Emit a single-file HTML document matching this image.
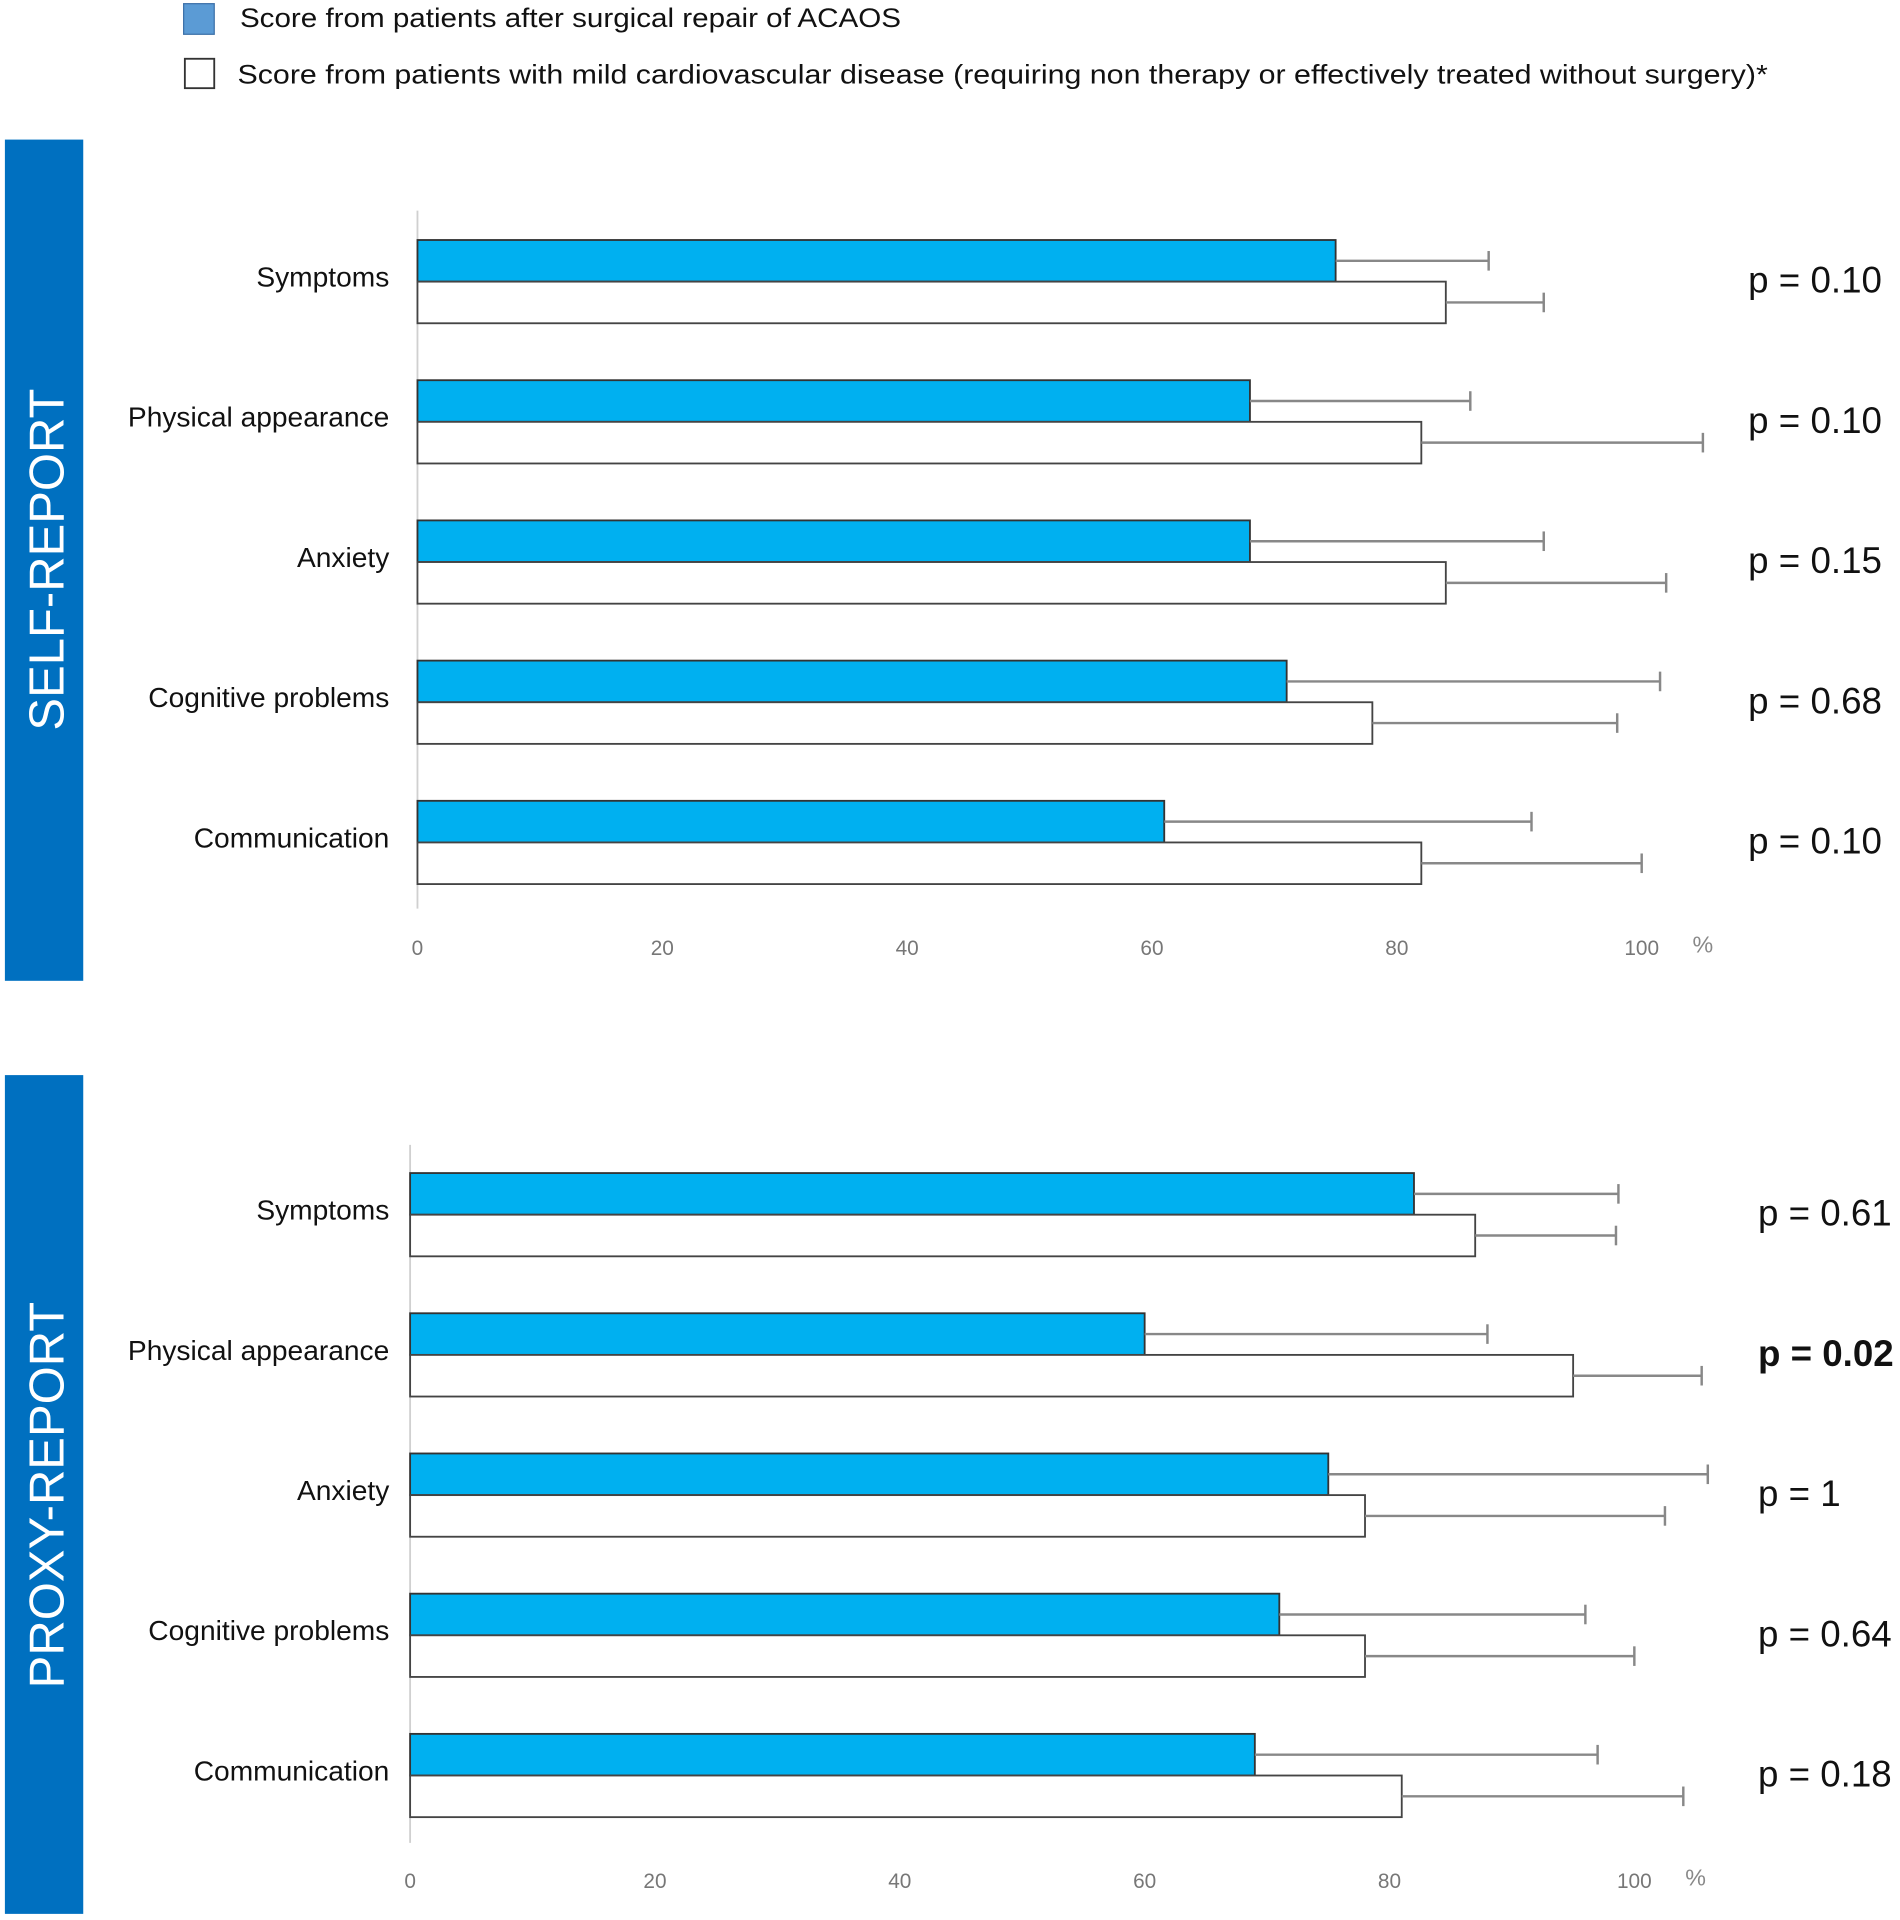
<!DOCTYPE html>
<html><head><meta charset="utf-8"><style>
html,body{margin:0;padding:0;background:#fff;}
svg{display:block;font-family:"Liberation Sans",sans-serif;}
</style></head><body>
<svg id="chart" width="1900" height="1920" viewBox="0 0 1552 1568" preserveAspectRatio="none" xmlns="http://www.w3.org/2000/svg">
<g>
<rect x="150" y="3" width="25" height="25" fill="#5b9bd5" stroke="#3a6fa8" stroke-width="1"/>
<text x="196" y="22" font-size="22" fill="#111" textLength="540" lengthAdjust="spacingAndGlyphs">Score from patients after surgical repair of ACAOS</text>
<rect x="151" y="48" width="24" height="24" fill="#fff" stroke="#333" stroke-width="1.5"/>
<text x="194" y="68" font-size="22" fill="#111" textLength="1250" lengthAdjust="spacingAndGlyphs">Score from patients with mild cardiovascular disease (requiring non therapy or effectively treated without surgery)*</text>
</g>
<rect x="4" y="114" width="64" height="687" fill="#0070c0"/>
<text transform="translate(52,457) rotate(-90)" text-anchor="middle" font-size="40" fill="#fff">SELF-REPORT</text>
<rect x="4" y="878" width="64" height="685" fill="#0070c0"/>
<text transform="translate(52,1221) rotate(-90)" text-anchor="middle" font-size="40" fill="#fff">PROXY-REPORT</text>
<g id="plots"></g>
</svg>
<script>
const categories = ["Symptoms","Physical appearance","Anxiety","Cognitive problems","Communication"];
const selfAcaos = [75,68,68,71,61];
const selfAcaosErr = [87.5,86,92,101.5,91];
const selfMild = [84,82,84,78,82];
const selfMildErr = [92,105,102,98,100];
const selfP = ["p = 0.10","p = 0.10","p = 0.15","p = 0.68","p = 0.10"];
const proxyAcaos = [82,60,75,71,69];
const proxyAcaosErr = [98.7,88,106,96,97];
const proxyMild = [87,95,78,78,81];
const proxyMildErr = [98.5,105.5,102.5,100,104];
const proxyP = ["p = 0.61","p = 0.02","p = 1","p = 0.64","p = 0.18"];
const proxyPBold = [false,true,false,false,false];
const ticks = [0,20,40,60,80,100];

const NS="http://www.w3.org/2000/svg";
const root=document.getElementById('plots');
function mk(tag,attrs,parent,txt){const e=document.createElementNS(NS,tag);for(const k in attrs)e.setAttribute(k,attrs[k]);if(txt!==undefined)e.textContent=txt;parent.appendChild(e);return e;}

function panel(cfg){
  const g=mk('g',{},root);
  
  
  const x=v=>cfg.x0+v*10;
  const ax=mk('line',{x1:x(0),x2:x(0),y1:cfg.axTop,y2:cfg.axBot,stroke:'#d0d0d0','stroke-width':1.5},g);
  
  
  ticks.forEach(t=>{
    const tl=mk('text',{x:x(t),y:cfg.tickY,'font-size':17,fill:'#777','text-anchor':'middle'},g,String(t));
    
    
  });
  const pc=mk('text',{x:x(105),y:cfg.tickY-2,'font-size':19,fill:'#888','text-anchor':'middle'},g,'%');
  
  
  categories.forEach((c,i)=>{
    const top=cfg.y0+i*cfg.pitch, h=34;
    const lab=mk('text',{x:318,y:top+h+4,'font-size':23,fill:'#111','text-anchor':'end'},g,c);
    
    
    const b1=mk('rect',{x:x(0),y:top,width:x(cfg.a[i])-x(0),height:h,fill:'#00b0f0',stroke:'#333','stroke-width':1.5},g);
    
    
    const b2=mk('rect',{x:x(0),y:top+h,width:x(cfg.m[i])-x(0),height:h,fill:'#fff',stroke:'#444','stroke-width':1.5},g);
    
    
    [[cfg.a[i],cfg.ae[i],top+h/2],[cfg.m[i],cfg.me[i],top+h*1.5]].forEach(([v,e,yy])=>{
      const el=mk('line',{x1:x(v),x2:x(e),y1:yy,y2:yy,stroke:'#888','stroke-width':2},g);
      
      
      const cap=mk('line',{x1:x(e),x2:x(e),y1:yy-8,y2:yy+8,stroke:'#888','stroke-width':2},g);
      
      
    });
    const p=mk('text',{x:cfg.px,y:top+h+9,'font-size':30,fill:'#111','font-weight':cfg.bold[i]?'bold':'normal'},g,cfg.p[i]);
    
    
  });
}
panel({name:'self-report-chart',x0:341,axTop:172,axBot:742,tickY:780,y0:196,pitch:114.5,a:selfAcaos,ae:selfAcaosErr,m:selfMild,me:selfMildErr,p:selfP,bold:[false,false,false,false,false],px:1428});
panel({name:'proxy-report-chart',x0:335,axTop:935,axBot:1505,tickY:1542,y0:958,pitch:114.5,a:proxyAcaos,ae:proxyAcaosErr,m:proxyMild,me:proxyMildErr,p:proxyP,bold:proxyPBold,px:1436});
</script>
</body></html>
